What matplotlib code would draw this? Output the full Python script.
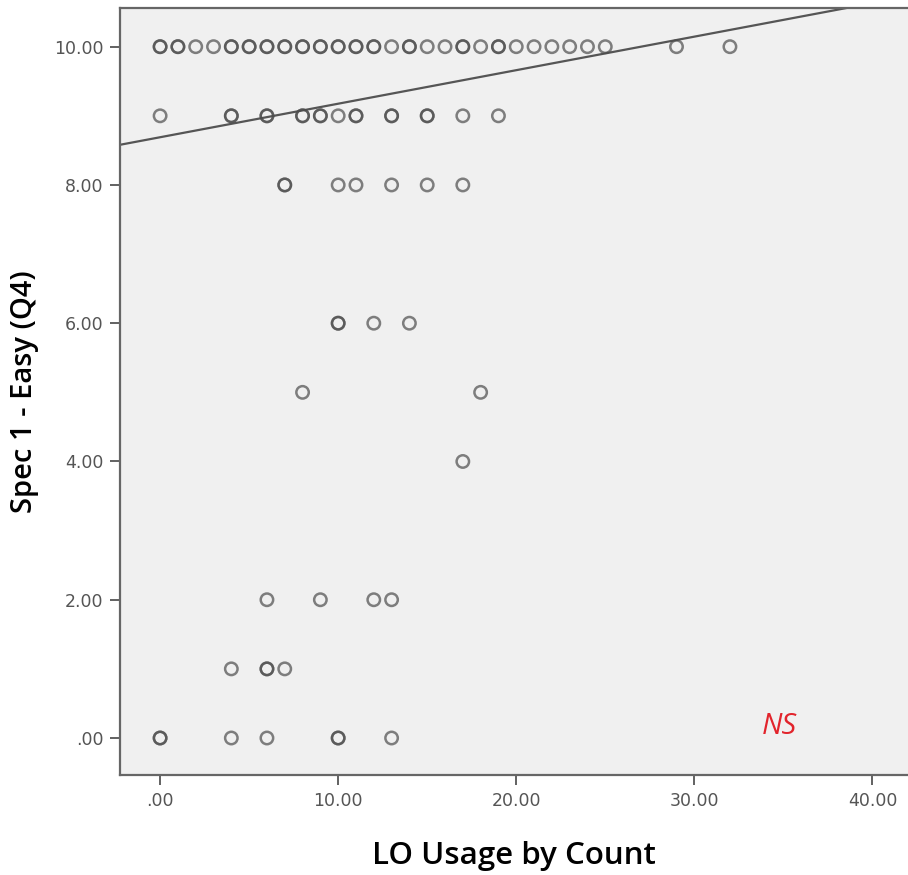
import numpy as np
import matplotlib
matplotlib.use("Agg")
from matplotlib import pyplot as plt

# Observed points, one list of x per y level (repeats = overlapping cases)
row_10 = [0, 0, 1, 1, 2, 3, 4, 4, 5, 5, 6, 6, 7, 7, 8, 8, 9, 9, 10, 10, 11, 11,
          12, 12, 13, 14, 14, 15, 16, 17, 17, 18, 19, 19, 20, 21, 22, 23, 24, 25, 29, 32]
row_9 = [0, 4, 4, 6, 6, 8, 8, 9, 9, 10, 11, 11, 13, 13, 15, 15, 17, 19]
row_8 = [7, 7, 10, 11, 13, 15, 17]
row_6 = [10, 10, 12, 14]
row_5 = [8, 18]
row_4 = [17]
row_2 = [6, 9, 12, 13]
row_1 = [4, 6, 6, 7]
row_0 = [0, 0, 4, 6, 10, 10, 13]

rows = {10: row_10, 9: row_9, 8: row_8, 6: row_6, 5: row_5,
        4: row_4, 2: row_2, 1: row_1, 0: row_0}

# Fit line
fit_intercept = 8.69
fit_slope = 0.0485

x_ticks = [0, 10, 20, 30, 40]
x_labels = [".00", "10.00", "20.00", "30.00", "40.00"]
y_ticks = [0, 2, 4, 6, 8, 10]
y_labels = [".00", "2.00", "4.00", "6.00", "8.00", "10.00"]

fig = plt.figure(figsize=(9.08, 8.75), dpi=100)
ax = fig.add_axes([0.1322, 0.1143, 0.8678, 0.8766])
ax.set_facecolor("#f0f0f0")

xs = []
ys = []
for yv, xl in rows.items():
    xs += xl
    ys += [yv] * len(xl)
ax.scatter(xs, ys, s=80, facecolors="none", edgecolors=(0.3, 0.3, 0.3, 0.7),
           linewidths=1.8, zorder=3)

xlim = (-2.25, 42.0)
ylim = (-0.535, 10.56)
lx = np.array(xlim)
ax.plot(lx, fit_intercept + fit_slope * lx, color="#555555", lw=1.6, zorder=2)

ax.text(34.8, 0.17, "NS", color="#e2242c", fontsize=21, style="italic",
        ha="center", va="center", family="Open Sans")

ax.set_xlim(*xlim)
ax.set_ylim(*ylim)
ax.set_xticks(x_ticks)
ax.set_xticklabels(x_labels)
ax.set_yticks(y_ticks)
ax.set_yticklabels(y_labels)
ax.tick_params(direction="out", length=7, width=1.3, color="#555555",
               labelcolor="#555555", labelsize=12.5, pad=5)
for lab in ax.get_xticklabels() + ax.get_yticklabels():
    lab.set_family("DejaVu Sans")

for side in ["left", "bottom", "top"]:
    ax.spines[side].set_color("#666666")
    ax.spines[side].set_linewidth(1.6)
ax.spines["right"].set_visible(False)

ax.set_xlabel("LO Usage by Count", fontsize=22.5, fontweight="semibold",
              family="Open Sans", va="center")
ax.xaxis.set_label_coords(0.5, -0.105)
ax.set_ylabel("Spec 1 - Easy (Q4)", fontsize=21, fontweight="semibold",
              family="Open Sans", va="center")
ax.yaxis.set_label_coords(-0.121, 0.5)

fig.savefig("out.png", dpi=100)
